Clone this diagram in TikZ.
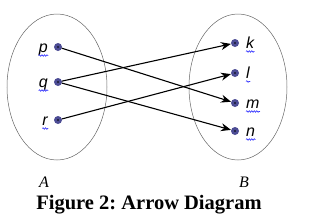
\documentclass[tikz,border=0pt]{standalone}
\usepackage{fontspec}
\setmainfont{Liberation Serif}
\newfontfamily\lblfont{Liberation Sans}
\usepackage{tikz}
\usetikzlibrary{arrows.meta,decorations.pathmorphing}

\tikzset{
  elt/.style={circle,fill=blue!40!black!70!white,inner sep=0pt,minimum size=8pt,
    path picture={\fill[black] (path picture bounding box.center) circle (0.8pt);}},
  lbl/.style={inner sep=0pt,font=\lblfont\itshape\fontsize{16}{16}\selectfont},
  squig/.style={blue!80,line width=0.6pt,decorate,
    decoration={snake,amplitude=0.8pt,segment length=2.5pt}},
  setname/.style={font=\itshape\fontsize{16}{16}\selectfont}
}

\begin{document}
\begin{tikzpicture}[x=1pt,y=-1pt,>={Stealth[length=10pt,width=8pt]},line cap=round]
\useasboundingbox (0,0) rectangle (314,223);
\draw[gray!80!black,line width=0.5pt] (57,87) ellipse (50 and 73);
\draw[gray!80!black,line width=0.5pt] (238,87) ellipse (49 and 73);
% set A
\node[elt] (p) at (58,47) {};
\node[elt] (q) at (58,82) {};
\node[elt] (r) at (58,120) {};
\node[lbl,anchor=base east] (lp) at (48,52) {p};
\node[lbl,anchor=base east] (lq) at (48,87) {q};
\node[lbl,anchor=base east] (lr) at (48,125) {r};
% set B
\node[elt] (k) at (235,43) {};
\node[elt] (l) at (235,73) {};
\node[elt] (m) at (235,103) {};
\node[elt] (n) at (235,131) {};
\node[lbl,anchor=base west] (lk) at (246,48) {k};
\node[lbl,anchor=base west] (ll) at (246,78) {l};
\node[lbl,anchor=base west] (lm) at (246,108) {m};
\node[lbl,anchor=base west] (ln) at (246,136) {n};
% spelling squiggles
\foreach \w in {lp,lq,lr,lk,ll,lm,ln}
  \draw[squig] ([yshift=-3.5pt]\w.base west) -- ([yshift=-3.5pt]\w.base east);
% arrows
\draw[->,line width=1.1pt] (p) -- (m);
\draw[->,line width=1.1pt] (q) -- (k);
\draw[->,line width=1.1pt] (q) -- (n);
\draw[->,line width=1.1pt] (r) -- (l);
\node[setname] (a) at (44,182) {A};
\node[setname] (b) at (244,182) {B};
\node[font=\bfseries\fontsize{20.5}{20}\selectfont,anchor=base] (cap) at (149,209) {Figure 2:\ Arrow Diagram};
\end{tikzpicture}
\end{document}
